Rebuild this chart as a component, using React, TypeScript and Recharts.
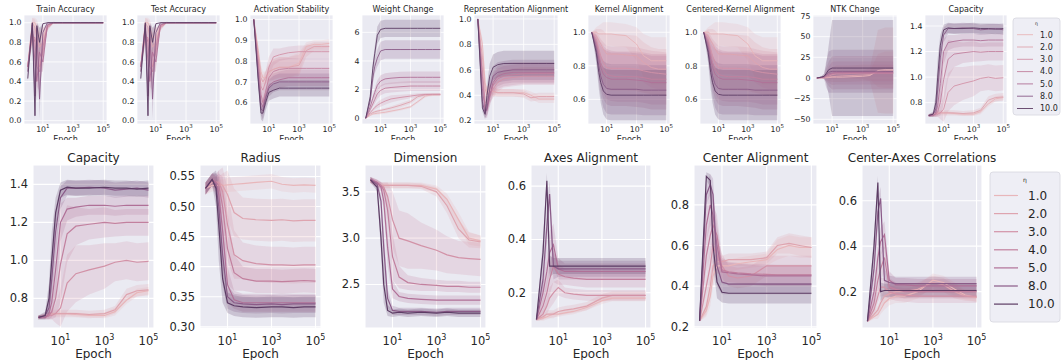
import React from "react";
import { ComposedChart, Area, Line, XAxis, YAxis, CartesianGrid } from "recharts";

// logged epochs (log x axis)
const EPOCHS = [1, 2, 3, 4, 6, 10, 20, 50, 200, 1000, 3000, 10000, 30000, 100000];
const ETAS = ["1.0", "2.0", "3.0", "4.0", "5.0", "8.0", "10.0"];
const COLORS = ["#e8b6ba", "#dea4af", "#d292a7", "#c2809e", "#b07097", "#8a5b88", "#5c3c64"];
const X_DOMAIN = [0.5623, 177828];
const X_TICKS = [10, 1000, 100000];
const INK = "#262626";
const FONT = "DejaVu Sans";

// one row per eta, one column per epoch
const accMean = [
  [0.55, 1.0, 1.0, 0.95, 0.85, 0.85, 0.97, 1, 1, 1, 1, 1, 1, 1],
  [0.55, 1.0, 0.95, 0.85, 0.75, 0.8, 0.95, 1, 1, 1, 1, 1, 1, 1],
  [0.55, 0.85, 0.85, 0.75, 0.55, 0.7, 0.95, 1, 1, 1, 1, 1, 1, 1],
  [0.55, 0.9, 0.8, 0.55, 0.5, 0.75, 0.97, 1, 1, 1, 1, 1, 1, 1],
  [0.55, 0.95, 0.6, 0.4, 0.7, 0.6, 0.98, 1, 1, 1, 1, 1, 1, 1],
  [0.5, 0.98, 0.25, 0.95, 0.22, 0.9, 1, 1, 1, 1, 1, 1, 1, 1],
  [0.43, 1.0, 0.05, 0.97, 0.8, 0.99, 1, 1, 1, 1, 1, 1, 1, 1],
];
const accSpread = [
  [0.05, 0.05, 0.05, 0.08, 0.1, 0.1, 0.02, 0.01, 0, 0, 0, 0, 0, 0],
  [0.05, 0.05, 0.08, 0.12, 0.15, 0.15, 0.03, 0.01, 0, 0, 0, 0, 0, 0],
  [0.05, 0.08, 0.12, 0.15, 0.2, 0.15, 0.03, 0.005, 0, 0, 0, 0, 0, 0],
  [0.05, 0.1, 0.15, 0.2, 0.2, 0.12, 0.01, 0, 0, 0, 0, 0, 0, 0],
  [0.05, 0.05, 0.2, 0.2, 0.2, 0.1, 0, 0, 0, 0, 0, 0, 0, 0],
  [0.05, 0.02, 0.15, 0.05, 0.2, 0.02, 0, 0, 0, 0, 0, 0, 0, 0],
  [0.03, 0, 0.05, 0.03, 0.15, 0, 0, 0, 0, 0, 0, 0, 0, 0],
];

const stabMean = [
  [1.0, 0.85, 0.75, 0.72, 0.72, 0.74, 0.76, 0.77, 0.77, 0.79, 0.87, 0.88, 0.88, 0.885],
  [1.0, 0.83, 0.72, 0.7, 0.72, 0.75, 0.76, 0.77, 0.77, 0.78, 0.85, 0.87, 0.87, 0.87],
  [1.0, 0.8, 0.68, 0.66, 0.7, 0.77, 0.82, 0.83, 0.84, 0.845, 0.845, 0.845, 0.845, 0.845],
  [1.0, 0.78, 0.64, 0.6, 0.65, 0.72, 0.75, 0.76, 0.765, 0.765, 0.765, 0.765, 0.765, 0.765],
  [1.0, 0.75, 0.6, 0.58, 0.63, 0.68, 0.7, 0.71, 0.72, 0.72, 0.72, 0.72, 0.72, 0.72],
  [1.0, 0.72, 0.57, 0.56, 0.62, 0.67, 0.69, 0.7, 0.7, 0.7, 0.7, 0.7, 0.7, 0.7],
  [1.0, 0.7, 0.55, 0.55, 0.6, 0.65, 0.66, 0.67, 0.67, 0.67, 0.67, 0.67, 0.67, 0.67],
];
const stabSpread = [
  [0, 0.02, 0.03, 0.03, 0.03, 0.04, 0.05, 0.05, 0.05, 0.05, 0.02, 0.02, 0.02, 0.02],
  [0, 0.02, 0.03, 0.03, 0.03, 0.04, 0.05, 0.05, 0.05, 0.05, 0.03, 0.02, 0.02, 0.02],
  [0, 0.03, 0.04, 0.05, 0.05, 0.05, 0.04, 0.03, 0.03, 0.03, 0.03, 0.03, 0.03, 0.03],
  [0, 0.03, 0.04, 0.05, 0.05, 0.05, 0.05, 0.05, 0.05, 0.05, 0.05, 0.05, 0.05, 0.05],
  [0, 0.03, 0.04, 0.04, 0.04, 0.04, 0.04, 0.04, 0.04, 0.04, 0.04, 0.04, 0.04, 0.04],
  [0, 0.03, 0.03, 0.04, 0.04, 0.04, 0.04, 0.04, 0.04, 0.04, 0.04, 0.04, 0.04, 0.04],
  [0, 0.03, 0.03, 0.04, 0.04, 0.04, 0.04, 0.04, 0.04, 0.04, 0.04, 0.04, 0.04, 0.04],
];

const weightMean = [
  [0, 0.2, 0.3, 0.32, 0.35, 0.38, 0.42, 0.5, 0.62, 0.8, 1.15, 1.55, 1.64, 1.65],
  [0, 0.3, 0.4, 0.45, 0.5, 0.55, 0.62, 0.72, 0.9, 1.15, 1.5, 1.65, 1.66, 1.66],
  [0, 0.4, 0.6, 0.75, 0.9, 1.05, 1.2, 1.35, 1.45, 1.55, 1.62, 1.66, 1.67, 1.67],
  [0, 0.6, 1.0, 1.3, 1.7, 1.95, 2.1, 2.15, 2.2, 2.25, 2.25, 2.25, 2.25, 2.25],
  [0, 0.8, 1.4, 1.8, 2.3, 2.6, 2.75, 2.8, 2.85, 2.86, 2.86, 2.86, 2.86, 2.86],
  [0, 1.2, 2.8, 3.6, 4.2, 4.7, 4.8, 4.8, 4.8, 4.8, 4.8, 4.8, 4.8, 4.8],
  [0, 1.5, 3.5, 4.5, 5.8, 6.2, 6.28, 6.28, 6.28, 6.28, 6.28, 6.28, 6.28, 6.28],
];
const weightSpread = [
  [0, 0.05, 0.08, 0.1, 0.1, 0.1, 0.1, 0.1, 0.1, 0.1, 0.1, 0.1, 0.08, 0.08],
  [0, 0.05, 0.1, 0.1, 0.1, 0.1, 0.1, 0.12, 0.15, 0.15, 0.15, 0.1, 0.08, 0.08],
  [0, 0.05, 0.1, 0.15, 0.2, 0.25, 0.25, 0.25, 0.2, 0.15, 0.12, 0.1, 0.1, 0.1],
  [0, 0.1, 0.2, 0.3, 0.35, 0.35, 0.35, 0.35, 0.35, 0.35, 0.35, 0.35, 0.35, 0.35],
  [0, 0.1, 0.2, 0.3, 0.35, 0.4, 0.4, 0.4, 0.4, 0.4, 0.4, 0.4, 0.4, 0.4],
  [0, 0.2, 0.4, 0.5, 0.6, 0.65, 0.65, 0.65, 0.65, 0.65, 0.65, 0.65, 0.65, 0.65],
  [0, 0.2, 0.4, 0.5, 0.6, 0.6, 0.6, 0.6, 0.6, 0.6, 0.6, 0.6, 0.6, 0.6],
];

const repMean = [
  [1.0, 0.8, 0.5, 0.42, 0.44, 0.43, 0.42, 0.42, 0.42, 0.42, 0.4, 0.37, 0.37, 0.37],
  [1.0, 0.7, 0.45, 0.4, 0.45, 0.43, 0.42, 0.42, 0.42, 0.41, 0.38, 0.39, 0.39, 0.39],
  [1.0, 0.6, 0.35, 0.33, 0.4, 0.45, 0.5, 0.53, 0.54, 0.55, 0.55, 0.55, 0.55, 0.55],
  [1.0, 0.55, 0.3, 0.3, 0.38, 0.48, 0.53, 0.55, 0.56, 0.57, 0.57, 0.57, 0.57, 0.57],
  [1.0, 0.45, 0.28, 0.28, 0.4, 0.5, 0.55, 0.57, 0.58, 0.58, 0.58, 0.58, 0.58, 0.58],
  [1.0, 0.35, 0.26, 0.3, 0.45, 0.55, 0.58, 0.59, 0.6, 0.6, 0.6, 0.6, 0.6, 0.6],
  [1.0, 0.3, 0.25, 0.4, 0.55, 0.62, 0.64, 0.65, 0.65, 0.65, 0.65, 0.65, 0.65, 0.65],
];
const repSpread = [
  [0, 0.05, 0.06, 0.05, 0.04, 0.03, 0.03, 0.03, 0.03, 0.03, 0.03, 0.03, 0.03, 0.03],
  [0, 0.05, 0.06, 0.06, 0.05, 0.04, 0.03, 0.03, 0.03, 0.03, 0.03, 0.03, 0.03, 0.03],
  [0, 0.05, 0.06, 0.06, 0.06, 0.07, 0.07, 0.07, 0.07, 0.07, 0.07, 0.07, 0.07, 0.07],
  [0, 0.05, 0.05, 0.06, 0.07, 0.08, 0.08, 0.08, 0.08, 0.08, 0.08, 0.08, 0.08, 0.08],
  [0, 0.04, 0.05, 0.06, 0.07, 0.08, 0.08, 0.08, 0.08, 0.08, 0.08, 0.08, 0.08, 0.08],
  [0, 0.04, 0.04, 0.06, 0.08, 0.08, 0.08, 0.08, 0.08, 0.08, 0.08, 0.08, 0.08, 0.08],
  [0, 0.03, 0.04, 0.08, 0.1, 0.1, 0.1, 0.1, 0.1, 0.1, 0.1, 0.1, 0.1, 0.1],
];

const kernelMean = [
  [1.0, 1.0, 0.99, 0.99, 0.99, 0.99, 0.99, 0.985, 0.98, 0.93, 0.86, 0.83, 0.83, 0.83],
  [1.0, 0.98, 0.95, 0.93, 0.9, 0.87, 0.87, 0.87, 0.865, 0.86, 0.82, 0.79, 0.78, 0.78],
  [1.0, 0.96, 0.9, 0.86, 0.82, 0.79, 0.785, 0.785, 0.785, 0.78, 0.77, 0.76, 0.755, 0.75],
  [1.0, 0.94, 0.87, 0.82, 0.78, 0.75, 0.74, 0.735, 0.735, 0.735, 0.73, 0.72, 0.72, 0.72],
  [1.0, 0.92, 0.84, 0.79, 0.75, 0.73, 0.72, 0.72, 0.72, 0.715, 0.71, 0.7, 0.7, 0.7],
  [1.0, 0.9, 0.8, 0.74, 0.69, 0.665, 0.66, 0.66, 0.66, 0.66, 0.655, 0.655, 0.655, 0.655],
  [1.0, 0.88, 0.76, 0.7, 0.65, 0.63, 0.625, 0.625, 0.625, 0.625, 0.625, 0.625, 0.625, 0.625],
];
const kernelSpread = [
  [0, 0.03, 0.05, 0.06, 0.07, 0.07, 0.07, 0.07, 0.07, 0.1, 0.13, 0.14, 0.14, 0.14],
  [0, 0.04, 0.07, 0.09, 0.11, 0.12, 0.12, 0.12, 0.12, 0.12, 0.12, 0.12, 0.12, 0.12],
  [0, 0.05, 0.08, 0.1, 0.12, 0.13, 0.13, 0.13, 0.13, 0.13, 0.13, 0.13, 0.13, 0.13],
  [0, 0.05, 0.09, 0.12, 0.14, 0.15, 0.15, 0.15, 0.15, 0.15, 0.15, 0.15, 0.15, 0.15],
  [0, 0.06, 0.1, 0.13, 0.15, 0.16, 0.16, 0.16, 0.16, 0.16, 0.16, 0.16, 0.16, 0.16],
  [0, 0.06, 0.1, 0.12, 0.14, 0.15, 0.15, 0.15, 0.15, 0.15, 0.15, 0.15, 0.15, 0.15],
  [0, 0.06, 0.1, 0.12, 0.14, 0.15, 0.15, 0.15, 0.15, 0.15, 0.15, 0.15, 0.15, 0.15],
];

const ntkMean = [
  [0, 0.1, 0.2, 0.3, 0.5, 1, 1, 1, 1.5, 2, 3, 9, 10, 10],
  [0, 0.2, 0.3, 0.5, 1, 1.5, 2, 2.5, 3, 3.5, 4, 8, 9, 9],
  [0, 0.3, 0.5, 1, 2, 4, 5, 5, 5.5, 6, 6, 6, 6, 6],
  [0, 0.5, 1, 2, 4, 5.5, 6, 6, 6, 6, 6, 6, 6, 6],
  [0, 0.5, 1, 3, 5, 6, 6.5, 6.5, 6.5, 6.5, 6.5, 6.5, 6.5, 6.5],
  [0, 1, 2, 4, 7, 8, 8, 8, 8, 8, 8, 8, 8, 8],
  [0, 1, 2, 5, 10, 12, 12, 12, 12, 12, 12, 12, 12, 12],
];
const ntkSpread = [
  [0, 0.2, 0.4, 0.5, 1, 2, 2, 2, 2, 3, 5, 20, 22, 22],
  [0, 0.3, 0.5, 1, 2, 3, 3, 3, 4, 5, 8, 50, 52, 52],
  [0, 0.5, 1, 3, 6, 9, 10, 10, 10, 10, 10, 10, 10, 10],
  [0, 0.5, 2, 5, 10, 14, 14, 14, 14, 14, 14, 14, 14, 14],
  [0, 1, 2, 8, 15, 20, 20, 20, 20, 20, 20, 20, 20, 20],
  [0, 1, 3, 15, 25, 26, 26, 26, 26, 26, 26, 26, 26, 26],
  [0, 1, 3, 10, 30, 58, 58, 58, 58, 58, 58, 58, 58, 58],
];

const capMean = [
  [0.7, 0.71, 0.715, 0.72, 0.72, 0.72, 0.72, 0.715, 0.71, 0.71, 0.73, 0.79, 0.83, 0.84],
  [0.7, 0.71, 0.715, 0.72, 0.72, 0.72, 0.72, 0.72, 0.715, 0.72, 0.74, 0.82, 0.84, 0.845],
  [0.7, 0.7, 0.71, 0.71, 0.72, 0.75, 0.88, 0.93, 0.95, 0.97, 0.99, 1.0, 0.99, 0.995],
  [0.7, 0.7, 0.71, 0.73, 0.8, 0.98, 1.14, 1.18, 1.19, 1.2, 1.195, 1.2, 1.2, 1.2],
  [0.7, 0.7, 0.72, 0.78, 0.95, 1.2, 1.27, 1.28, 1.29, 1.29, 1.285, 1.29, 1.29, 1.29],
  [0.7, 0.71, 0.75, 0.9, 1.15, 1.33, 1.38, 1.38, 1.385, 1.38, 1.37, 1.375, 1.38, 1.37],
  [0.7, 0.71, 0.8, 1.0, 1.25, 1.37, 1.385, 1.38, 1.38, 1.385, 1.38, 1.38, 1.375, 1.38],
];
const capSpread = [
  [0.01, 0.01, 0.01, 0.01, 0.01, 0.01, 0.01, 0.01, 0.01, 0.015, 0.02, 0.02, 0.02, 0.02],
  [0.01, 0.01, 0.015, 0.02, 0.02, 0.02, 0.02, 0.02, 0.02, 0.02, 0.02, 0.03, 0.03, 0.03],
  [0.01, 0.01, 0.02, 0.02, 0.05, 0.1, 0.15, 0.15, 0.13, 0.12, 0.1, 0.1, 0.1, 0.1],
  [0.01, 0.01, 0.02, 0.04, 0.1, 0.2, 0.15, 0.1, 0.08, 0.08, 0.07, 0.07, 0.07, 0.07],
  [0.01, 0.01, 0.03, 0.08, 0.15, 0.1, 0.06, 0.05, 0.05, 0.05, 0.05, 0.05, 0.05, 0.05],
  [0.01, 0.01, 0.05, 0.12, 0.12, 0.06, 0.04, 0.04, 0.04, 0.04, 0.04, 0.04, 0.04, 0.04],
  [0.01, 0.02, 0.08, 0.15, 0.08, 0.04, 0.04, 0.04, 0.04, 0.04, 0.04, 0.04, 0.04, 0.04],
];

const radiusMean = [
  [0.53, 0.535, 0.535, 0.535, 0.535, 0.536, 0.537, 0.538, 0.54, 0.542, 0.537, 0.535, 0.536, 0.535],
  [0.53, 0.54, 0.54, 0.54, 0.535, 0.52, 0.49, 0.48, 0.478, 0.477, 0.478, 0.476, 0.477, 0.477],
  [0.53, 0.545, 0.54, 0.54, 0.525, 0.47, 0.42, 0.41, 0.405, 0.403, 0.403, 0.402, 0.403, 0.403],
  [0.53, 0.545, 0.54, 0.535, 0.5, 0.43, 0.39, 0.38, 0.376, 0.376, 0.375, 0.376, 0.377, 0.376],
  [0.53, 0.545, 0.54, 0.52, 0.46, 0.37, 0.345, 0.34, 0.34, 0.34, 0.34, 0.34, 0.34, 0.34],
  [0.53, 0.545, 0.535, 0.5, 0.42, 0.35, 0.34, 0.338, 0.337, 0.338, 0.337, 0.338, 0.338, 0.338],
  [0.53, 0.545, 0.53, 0.47, 0.38, 0.34, 0.335, 0.333, 0.332, 0.333, 0.333, 0.332, 0.333, 0.333],
];
const radiusSpread = [
  [0.01, 0.01, 0.01, 0.01, 0.01, 0.012, 0.012, 0.012, 0.012, 0.012, 0.012, 0.012, 0.012, 0.012],
  [0.01, 0.01, 0.01, 0.01, 0.02, 0.04, 0.04, 0.035, 0.035, 0.035, 0.035, 0.035, 0.035, 0.035],
  [0.01, 0.01, 0.01, 0.02, 0.04, 0.06, 0.04, 0.03, 0.03, 0.03, 0.03, 0.03, 0.03, 0.03],
  [0.01, 0.01, 0.01, 0.02, 0.05, 0.06, 0.03, 0.02, 0.02, 0.02, 0.02, 0.02, 0.02, 0.02],
  [0.01, 0.01, 0.015, 0.04, 0.06, 0.03, 0.015, 0.015, 0.015, 0.015, 0.015, 0.015, 0.015, 0.015],
  [0.01, 0.01, 0.02, 0.05, 0.05, 0.02, 0.015, 0.015, 0.015, 0.015, 0.015, 0.015, 0.015, 0.015],
  [0.01, 0.01, 0.03, 0.06, 0.04, 0.017, 0.017, 0.017, 0.017, 0.017, 0.017, 0.017, 0.017, 0.017],
];

const dimMean = [
  [3.62, 3.58, 3.57, 3.57, 3.57, 3.57, 3.57, 3.57, 3.57, 3.53, 3.42, 3.2, 3.0, 2.97],
  [3.62, 3.58, 3.57, 3.57, 3.57, 3.57, 3.57, 3.57, 3.56, 3.5, 3.35, 3.1, 2.98, 2.96],
  [3.63, 3.6, 3.57, 3.55, 3.45, 3.2, 3.0, 2.97, 2.92, 2.87, 2.82, 2.79, 2.78, 2.77],
  [3.63, 3.6, 3.57, 3.52, 3.3, 2.8, 2.58, 2.52, 2.5, 2.49, 2.48, 2.48, 2.47, 2.47],
  [3.63, 3.6, 3.55, 3.4, 2.9, 2.45, 2.37, 2.35, 2.34, 2.33, 2.33, 2.33, 2.33, 2.33],
  [3.63, 3.58, 3.4, 2.9, 2.35, 2.22, 2.21, 2.21, 2.21, 2.2, 2.21, 2.21, 2.21, 2.21],
  [3.63, 3.55, 3.0, 2.5, 2.22, 2.19, 2.2, 2.19, 2.2, 2.19, 2.2, 2.19, 2.19, 2.19],
];
const dimSpread = [
  [0.03, 0.03, 0.03, 0.03, 0.03, 0.03, 0.03, 0.03, 0.03, 0.04, 0.06, 0.08, 0.07, 0.06],
  [0.03, 0.03, 0.03, 0.03, 0.03, 0.03, 0.03, 0.03, 0.03, 0.05, 0.08, 0.1, 0.08, 0.07],
  [0.03, 0.03, 0.03, 0.05, 0.15, 0.3, 0.3, 0.3, 0.25, 0.22, 0.2, 0.18, 0.18, 0.18],
  [0.03, 0.03, 0.04, 0.06, 0.15, 0.25, 0.12, 0.08, 0.07, 0.06, 0.06, 0.06, 0.06, 0.06],
  [0.03, 0.03, 0.05, 0.1, 0.2, 0.1, 0.05, 0.05, 0.05, 0.05, 0.05, 0.05, 0.05, 0.05],
  [0.03, 0.03, 0.08, 0.2, 0.1, 0.05, 0.04, 0.04, 0.04, 0.04, 0.04, 0.04, 0.04, 0.04],
  [0.03, 0.04, 0.15, 0.2, 0.06, 0.04, 0.04, 0.04, 0.04, 0.04, 0.04, 0.04, 0.04, 0.04],
];

const axesMean = [
  [0.1, 0.105, 0.11, 0.115, 0.12, 0.12, 0.125, 0.13, 0.145, 0.17, 0.18, 0.18, 0.18, 0.18],
  [0.1, 0.11, 0.12, 0.12, 0.12, 0.13, 0.135, 0.14, 0.15, 0.18, 0.19, 0.19, 0.19, 0.19],
  [0.1, 0.12, 0.15, 0.18, 0.2, 0.22, 0.2, 0.195, 0.19, 0.19, 0.19, 0.19, 0.19, 0.19],
  [0.1, 0.15, 0.2, 0.25, 0.3, 0.27, 0.26, 0.255, 0.25, 0.25, 0.25, 0.25, 0.25, 0.25],
  [0.1, 0.2, 0.28, 0.35, 0.38, 0.29, 0.28, 0.28, 0.28, 0.28, 0.28, 0.28, 0.28, 0.28],
  [0.1, 0.25, 0.45, 0.57, 0.3, 0.29, 0.29, 0.29, 0.29, 0.29, 0.29, 0.29, 0.29, 0.29],
  [0.1, 0.35, 0.62, 0.3, 0.3, 0.3, 0.3, 0.3, 0.3, 0.3, 0.3, 0.3, 0.3, 0.3],
];
const axesSpread = [
  [0.005, 0.01, 0.01, 0.01, 0.01, 0.01, 0.01, 0.01, 0.01, 0.012, 0.012, 0.012, 0.012, 0.012],
  [0.005, 0.01, 0.015, 0.015, 0.015, 0.015, 0.015, 0.015, 0.015, 0.015, 0.015, 0.015, 0.015, 0.015],
  [0.005, 0.02, 0.03, 0.04, 0.04, 0.03, 0.02, 0.02, 0.02, 0.02, 0.02, 0.02, 0.02, 0.02],
  [0.005, 0.03, 0.05, 0.06, 0.06, 0.04, 0.03, 0.03, 0.03, 0.03, 0.03, 0.03, 0.03, 0.03],
  [0.005, 0.04, 0.06, 0.08, 0.08, 0.04, 0.03, 0.03, 0.03, 0.03, 0.03, 0.03, 0.03, 0.03],
  [0.005, 0.05, 0.08, 0.05, 0.05, 0.03, 0.03, 0.03, 0.03, 0.03, 0.03, 0.03, 0.03, 0.03],
  [0.005, 0.05, 0.03, 0.04, 0.03, 0.03, 0.03, 0.03, 0.03, 0.03, 0.03, 0.03, 0.03, 0.03],
];

const centerMean = [
  [0.23, 0.28, 0.35, 0.45, 0.5, 0.5, 0.5, 0.51, 0.52, 0.53, 0.58, 0.6, 0.59, 0.59],
  [0.23, 0.3, 0.4, 0.5, 0.52, 0.52, 0.53, 0.53, 0.53, 0.54, 0.6, 0.61, 0.6, 0.59],
  [0.23, 0.4, 0.5, 0.6, 0.55, 0.5, 0.45, 0.44, 0.45, 0.5, 0.5, 0.5, 0.5, 0.5],
  [0.23, 0.55, 0.65, 0.7, 0.65, 0.48, 0.47, 0.465, 0.46, 0.458, 0.455, 0.455, 0.455, 0.455],
  [0.23, 0.7, 0.8, 0.75, 0.6, 0.47, 0.465, 0.46, 0.455, 0.45, 0.45, 0.45, 0.45, 0.45],
  [0.23, 0.85, 0.9, 0.85, 0.5, 0.42, 0.41, 0.41, 0.41, 0.41, 0.41, 0.41, 0.41, 0.41],
  [0.23, 0.94, 0.92, 0.6, 0.42, 0.37, 0.365, 0.365, 0.365, 0.365, 0.365, 0.365, 0.365, 0.365],
];
const centerSpread = [
  [0.005, 0.03, 0.05, 0.05, 0.04, 0.03, 0.03, 0.03, 0.03, 0.03, 0.05, 0.05, 0.05, 0.05],
  [0.005, 0.04, 0.05, 0.05, 0.04, 0.03, 0.03, 0.03, 0.03, 0.03, 0.04, 0.05, 0.05, 0.05],
  [0.005, 0.05, 0.08, 0.08, 0.08, 0.06, 0.05, 0.05, 0.05, 0.05, 0.05, 0.05, 0.05, 0.05],
  [0.005, 0.08, 0.1, 0.1, 0.1, 0.06, 0.05, 0.05, 0.05, 0.05, 0.05, 0.05, 0.05, 0.05],
  [0.005, 0.08, 0.1, 0.1, 0.1, 0.06, 0.05, 0.05, 0.05, 0.05, 0.05, 0.05, 0.05, 0.05],
  [0.005, 0.05, 0.05, 0.08, 0.1, 0.06, 0.05, 0.05, 0.05, 0.05, 0.05, 0.05, 0.05, 0.05],
  [0.005, 0.02, 0.03, 0.1, 0.08, 0.05, 0.05, 0.05, 0.05, 0.05, 0.05, 0.05, 0.05, 0.05],
];

const corrMean = [
  [0.07, 0.09, 0.1, 0.12, 0.15, 0.17, 0.18, 0.18, 0.2, 0.25, 0.24, 0.21, 0.185, 0.175],
  [0.07, 0.1, 0.12, 0.15, 0.18, 0.19, 0.2, 0.2, 0.21, 0.24, 0.23, 0.2, 0.18, 0.175],
  [0.07, 0.12, 0.18, 0.22, 0.22, 0.2, 0.19, 0.185, 0.18, 0.18, 0.18, 0.18, 0.18, 0.18],
  [0.07, 0.15, 0.25, 0.3, 0.35, 0.22, 0.21, 0.2, 0.2, 0.2, 0.2, 0.2, 0.2, 0.2],
  [0.07, 0.2, 0.35, 0.42, 0.45, 0.25, 0.23, 0.23, 0.225, 0.225, 0.225, 0.225, 0.225, 0.225],
  [0.07, 0.3, 0.55, 0.61, 0.25, 0.24, 0.235, 0.235, 0.235, 0.235, 0.235, 0.235, 0.235, 0.235],
  [0.07, 0.4, 0.68, 0.2, 0.205, 0.205, 0.205, 0.205, 0.205, 0.205, 0.205, 0.205, 0.205, 0.205],
];
const corrSpread = [
  [0.005, 0.01, 0.02, 0.02, 0.03, 0.03, 0.03, 0.03, 0.03, 0.03, 0.03, 0.03, 0.02, 0.02],
  [0.005, 0.01, 0.02, 0.02, 0.03, 0.03, 0.03, 0.03, 0.03, 0.03, 0.03, 0.03, 0.02, 0.02],
  [0.005, 0.02, 0.03, 0.04, 0.04, 0.03, 0.03, 0.03, 0.03, 0.03, 0.03, 0.03, 0.03, 0.03],
  [0.005, 0.03, 0.05, 0.06, 0.06, 0.04, 0.03, 0.03, 0.03, 0.03, 0.03, 0.03, 0.03, 0.03],
  [0.005, 0.04, 0.06, 0.06, 0.06, 0.04, 0.03, 0.03, 0.03, 0.03, 0.03, 0.03, 0.03, 0.03],
  [0.005, 0.05, 0.06, 0.05, 0.05, 0.03, 0.03, 0.03, 0.03, 0.03, 0.03, 0.03, 0.03, 0.03],
  [0.005, 0.05, 0.03, 0.04, 0.03, 0.03, 0.03, 0.03, 0.03, 0.03, 0.03, 0.03, 0.03, 0.03],
];

type Row = {
  y: number; h: number; fs: number; tfs: number; padL: number; padB: number;
  lw: number; grid: number; gap: number; tickDy: number; titleY: number; labelY: number;
};
type Spec = {
  title: string; mean: number[][]; spread: number[][]; x: number; w: number;
  domain: number[]; ticks: number[]; dec: number;
};

const TOP: Row = { y: 15, h: 109, fs: 8, tfs: 7.8, padL: 24, padB: 18, lw: 0.9, grid: 0.8, gap: 2.5, tickDy: 7.5, titleY: 12.3, labelY: 141.5 };
const BOTTOM: Row = { y: 165, h: 163, fs: 12, tfs: 11.5, padL: 34, padB: 32, lw: 1.2, grid: 1.1, gap: 5, tickDy: 17, titleY: 162.3, labelY: 357.5 };

const topPanels: Spec[] = [
  { title: "Train Accuracy", mean: accMean, spread: accSpread, x: 24, w: 83, domain: [-0.034, 1.079], ticks: [0, 0.2, 0.4, 0.6, 0.8, 1.0], dec: 1 },
  { title: "Test Accuracy", mean: accMean, spread: accSpread, x: 137, w: 83, domain: [-0.034, 1.079], ticks: [0, 0.2, 0.4, 0.6, 0.8, 1.0], dec: 1 },
  { title: "Activation Stability", mean: stabMean, spread: stabSpread, x: 250, w: 83, domain: [0.498, 1.021], ticks: [0.6, 0.7, 0.8, 0.9, 1.0], dec: 1 },
  { title: "Weight Change", mean: weightMean, spread: weightSpread, x: 362, w: 82, domain: [-0.4, 7.21], ticks: [0, 2, 4, 6], dec: 0 },
  { title: "Representation Alignment", mean: repMean, spread: repSpread, x: 474, w: 84, domain: [0.174, 1.031], ticks: [0.2, 0.4, 0.6, 0.8, 1.0], dec: 1 },
  { title: "Kernel Alignment", mean: kernelMean, spread: kernelSpread, x: 588, w: 82, domain: [0.453, 1.103], ticks: [0.6, 0.8, 1.0], dec: 1 },
  { title: "Centered-Kernel Alignment", mean: kernelMean, spread: kernelSpread, x: 700, w: 81, domain: [0.453, 1.103], ticks: [0.6, 0.8, 1.0], dec: 1 },
  { title: "NTK Change", mean: ntkMean, spread: ntkSpread, x: 813, w: 84, domain: [-55.7, 76.2], ticks: [-50, -25, 0, 25, 50, 75], dec: 0 },
  { title: "Capacity", mean: capMean, spread: capSpread, x: 925, w: 82, domain: [0.633, 1.486], ticks: [0.8, 1.0, 1.2, 1.4], dec: 1 },
];

const bottomPanels: Spec[] = [
  { title: "Capacity", mean: capMean, spread: capSpread, x: 33, w: 121, domain: [0.644, 1.502], ticks: [0.8, 1.0, 1.2, 1.4], dec: 1 },
  { title: "Radius", mean: radiusMean, spread: radiusSpread, x: 200, w: 121, domain: [0.298, 0.569], ticks: [0.3, 0.35, 0.4, 0.45, 0.5, 0.55], dec: 2 },
  { title: "Dimension", mean: dimMean, spread: dimSpread, x: 365, w: 121, domain: [2.03, 3.79], ticks: [2.5, 3.0, 3.5], dec: 1 },
  { title: "Axes Alignment", mean: axesMean, spread: axesSpread, x: 531, w: 120, domain: [0.068, 0.679], ticks: [0.2, 0.4, 0.6], dec: 1 },
  { title: "Center Alignment", mean: centerMean, spread: centerSpread, x: 694, w: 123, domain: [0.194, 0.996], ticks: [0.2, 0.4, 0.6, 0.8], dec: 1 },
  { title: "Center-Axes Correlations", mean: corrMean, spread: corrSpread, x: 862, w: 120, domain: [0.04, 0.757], ticks: [0.2, 0.4, 0.6], dec: 1 },
];

const Panel = ({ spec, row }: { spec: Spec; row: Row }) => {
  const padT = 2;
  const padR = 4;
  const data = React.useMemo(
    () =>
      EPOCHS.map((epoch, i) => {
        const r: Record<string, any> = { epoch };
        spec.mean.forEach((m, k) => {
          r["m" + k] = m[i];
          r["b" + k] = [m[i] - spec.spread[k][i], m[i] + spec.spread[k][i]];
        });
        return r;
      }),
    [spec]
  );

  const xTick = (p: any) => {
    const exp = Math.round(Math.log10(p.payload.value));
    return (
      <text x={p.x} y={padT + row.h + row.tickDy} textAnchor="middle" fontSize={row.tfs} fill={INK} fontFamily={FONT}>
        10
        <tspan dy={-row.tfs * 0.45} fontSize={row.tfs * 0.7}>
          {exp}
        </tspan>
      </text>
    );
  };

  const yTick = (p: any) => {
    const v = Number(p.payload.value);
    const label = v.toFixed(spec.dec).replace("-", "\u2212");
    return (
      <text x={row.padL - row.gap} y={p.y} dy={row.tfs * 0.35} textAnchor="end" fontSize={row.tfs} fill={INK} fontFamily={FONT}>
        {label}
      </text>
    );
  };

  return (
    <div style={{ position: "absolute", left: spec.x - row.padL, top: row.y - padT }}>
      <ComposedChart
        width={row.padL + spec.w + padR}
        height={padT + row.h + row.padB}
        data={data}
        margin={{ top: padT, right: padR, left: 0, bottom: 0 }}
      >
        <CartesianGrid fill="#EAEAF2" stroke="#ffffff" strokeWidth={row.grid} />
        <XAxis
          dataKey="epoch"
          type="number"
          scale="log"
          domain={X_DOMAIN}
          ticks={X_TICKS}
          interval={0}
          allowDataOverflow
          axisLine={false}
          tickLine={false}
          height={row.padB}
          tick={xTick}
        />
        <YAxis
          type="number"
          domain={spec.domain}
          ticks={spec.ticks}
          interval={0}
          allowDataOverflow
          axisLine={false}
          tickLine={false}
          width={row.padL}
          tick={yTick}
        />
        {spec.mean.flatMap((_, k) => [
          <Area
            key={"a" + k}
            dataKey={"b" + k}
            stroke="none"
            fill={COLORS[k]}
            fillOpacity={0.22}
            dot={false}
            activeDot={false}
            isAnimationActive={false}
          />,
          <Line
            key={"l" + k}
            dataKey={"m" + k}
            stroke={COLORS[k]}
            strokeWidth={row.lw}
            dot={false}
            activeDot={false}
            isAnimationActive={false}
          />,
        ])}
      </ComposedChart>
    </div>
  );
};

const Legend = ({ x, y, w, h, fs, titleFs, first, step, lineX, lineW, textX, lw }: any) => (
  <g>
    <rect x={x} y={y} width={w} height={h} rx={3} fill="#EAEAF2" fillOpacity={0.8} stroke="#d6d6de" strokeWidth={0.8} />
    <text x={x + w / 2} y={y + titleFs * 1.6} textAnchor="middle" fontSize={titleFs} fill={INK} fontFamily={FONT}>
      η
    </text>
    {ETAS.map((eta, i) => (
      <g key={eta}>
        <line x1={lineX} x2={lineX + lineW} y1={first + i * step} y2={first + i * step} stroke={COLORS[i]} strokeWidth={lw} />
        <text x={textX} y={first + i * step} dy={fs * 0.35} fontSize={fs} fill={INK} fontFamily={FONT}>
          {eta}
        </text>
      </g>
    ))}
  </g>
);

export default function App() {
  return (
    <div style={{ position: "absolute", left: 0, top: 0, width: 1062, height: 360, background: "#fff", overflow: "hidden" }}>
      {topPanels.map((p) => (
        <Panel key={"t" + p.title + p.x} spec={p} row={TOP} />
      ))}
      {bottomPanels.map((p) => (
        <Panel key={"b" + p.title} spec={p} row={BOTTOM} />
      ))}
      <svg width={1062} height={360} style={{ position: "absolute", left: 0, top: 0, pointerEvents: "none" }}>
        <defs>
          <clipPath id="topclip">
            <rect x={0} y={0} width={1062} height={140} />
          </clipPath>
        </defs>
        <g clipPath="url(#topclip)">
          {topPanels.map((p) => (
            <g key={"tt" + p.x}>
              <text x={p.x + p.w / 2} y={TOP.titleY} textAnchor="middle" fontSize={TOP.fs} fill={INK} fontFamily={FONT}>
                {p.title}
              </text>
              <text x={p.x + p.w / 2} y={TOP.labelY} textAnchor="middle" fontSize={TOP.fs} fill={INK} fontFamily={FONT}>
                Epoch
              </text>
            </g>
          ))}
        </g>
        {bottomPanels.map((p) => (
          <g key={"bt" + p.x}>
            <text x={p.x + p.w / 2} y={BOTTOM.titleY} textAnchor="middle" fontSize={BOTTOM.fs} fill={INK} fontFamily={FONT}>
              {p.title}
            </text>
            <text x={p.x + p.w / 2} y={BOTTOM.labelY} textAnchor="middle" fontSize={BOTTOM.fs} fill={INK} fontFamily={FONT}>
              Epoch
            </text>
          </g>
        ))}
        <Legend x={1013} y={18} w={47} h={97} fs={8} titleFs={4.5} first={34.7} step={12.3} lineX={1017} lineW={16} textX={1040} lw={0.9} />
        <Legend x={990} y={172} w={70} h={150} fs={12} titleFs={6} first={195.5} step={18.1} lineX={994} lineW={24} textX={1028} lw={1.2} />
      </svg>
    </div>
  );
}
